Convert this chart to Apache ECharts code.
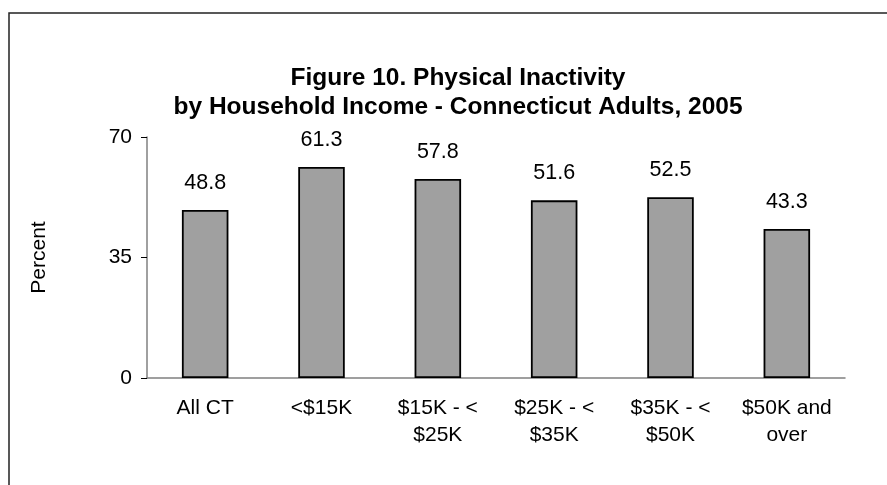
<!DOCTYPE html>
<html>
<head>
<meta charset="utf-8">
<script src="https://cdn.jsdelivr.net/npm/echarts@6/dist/echarts.min.js"></script>
<style>
  html, body { margin: 0; padding: 0; background: #fff; }
  #chart { width: 887px; height: 485px; }
</style>
</head>
<body>
<div id="chart"></div>
<script>
const categories = ['All CT', '<$15K', '$15K - <\n$25K', '$25K - <\n$35K', '$35K - <\n$50K', '$50K and\nover'];
const percents = [48.8, 61.3, 57.8, 51.6, 52.5, 43.3];
const yTicks = [0, 35, 70];

const font = "'Liberation Sans', Arial, sans-serif";

const chart = echarts.init(document.getElementById('chart'));
chart.setOption({
  animation: false,
  backgroundColor: '#fff',
  title: {
    text: 'Figure 10. Physical Inactivity\nby Household Income - Connecticut Adults, 2005',
    left: 453,
    top: 59,
    textAlign: 'center',
    textStyle: {
      fontFamily: font,
      fontSize: 24.5,
      fontWeight: 'bold',
      color: '#000',
      lineHeight: 29
    }
  },
  graphic: [{
    type: 'rect',
    shape: { x: 9, y: 13, width: 900, height: 500 },
    style: { fill: 'none', stroke: '#222', lineWidth: 1.5 },
    silent: true
  }],
  grid: { left: 147, right: 42, top: 137, bottom: 107 },
  xAxis: {
    type: 'category',
    data: categories,
    axisLine: { lineStyle: { color: '#808080', width: 1.5 } },
    axisTick: { show: false },
    axisLabel: {
      interval: 0,
      margin: 17,
      fontFamily: font,
      fontSize: 21,
      color: '#000',
      lineHeight: 27
    }
  },
  yAxis: {
    type: 'value',
    min: yTicks[0],
    max: yTicks[yTicks.length - 1],
    interval: 35,
    name: 'Percent',
    nameLocation: 'middle',
    nameGap: 97,
    nameTextStyle: { fontFamily: font, fontSize: 21, color: '#000' },
    axisLine: { show: true, lineStyle: { color: '#808080', width: 1.5 } },
    axisTick: { show: true, inside: false, length: 6, lineStyle: { color: '#000' } },
    splitLine: { show: false },
    axisLabel: { margin: 15, fontFamily: font, fontSize: 21, color: '#000' }
  },
  series: [{
    type: 'bar',
    data: percents,
    barWidth: '40%',
    itemStyle: { color: '#a0a0a0', borderColor: '#000', borderWidth: 1.8 },
    label: {
      show: true,
      position: 'top',
      distance: 16,
      fontFamily: font,
      fontSize: 21.5,
      color: '#000',
      formatter: p => p.value.toFixed(1)
    }
  }]
});
</script>
</body>
</html>
